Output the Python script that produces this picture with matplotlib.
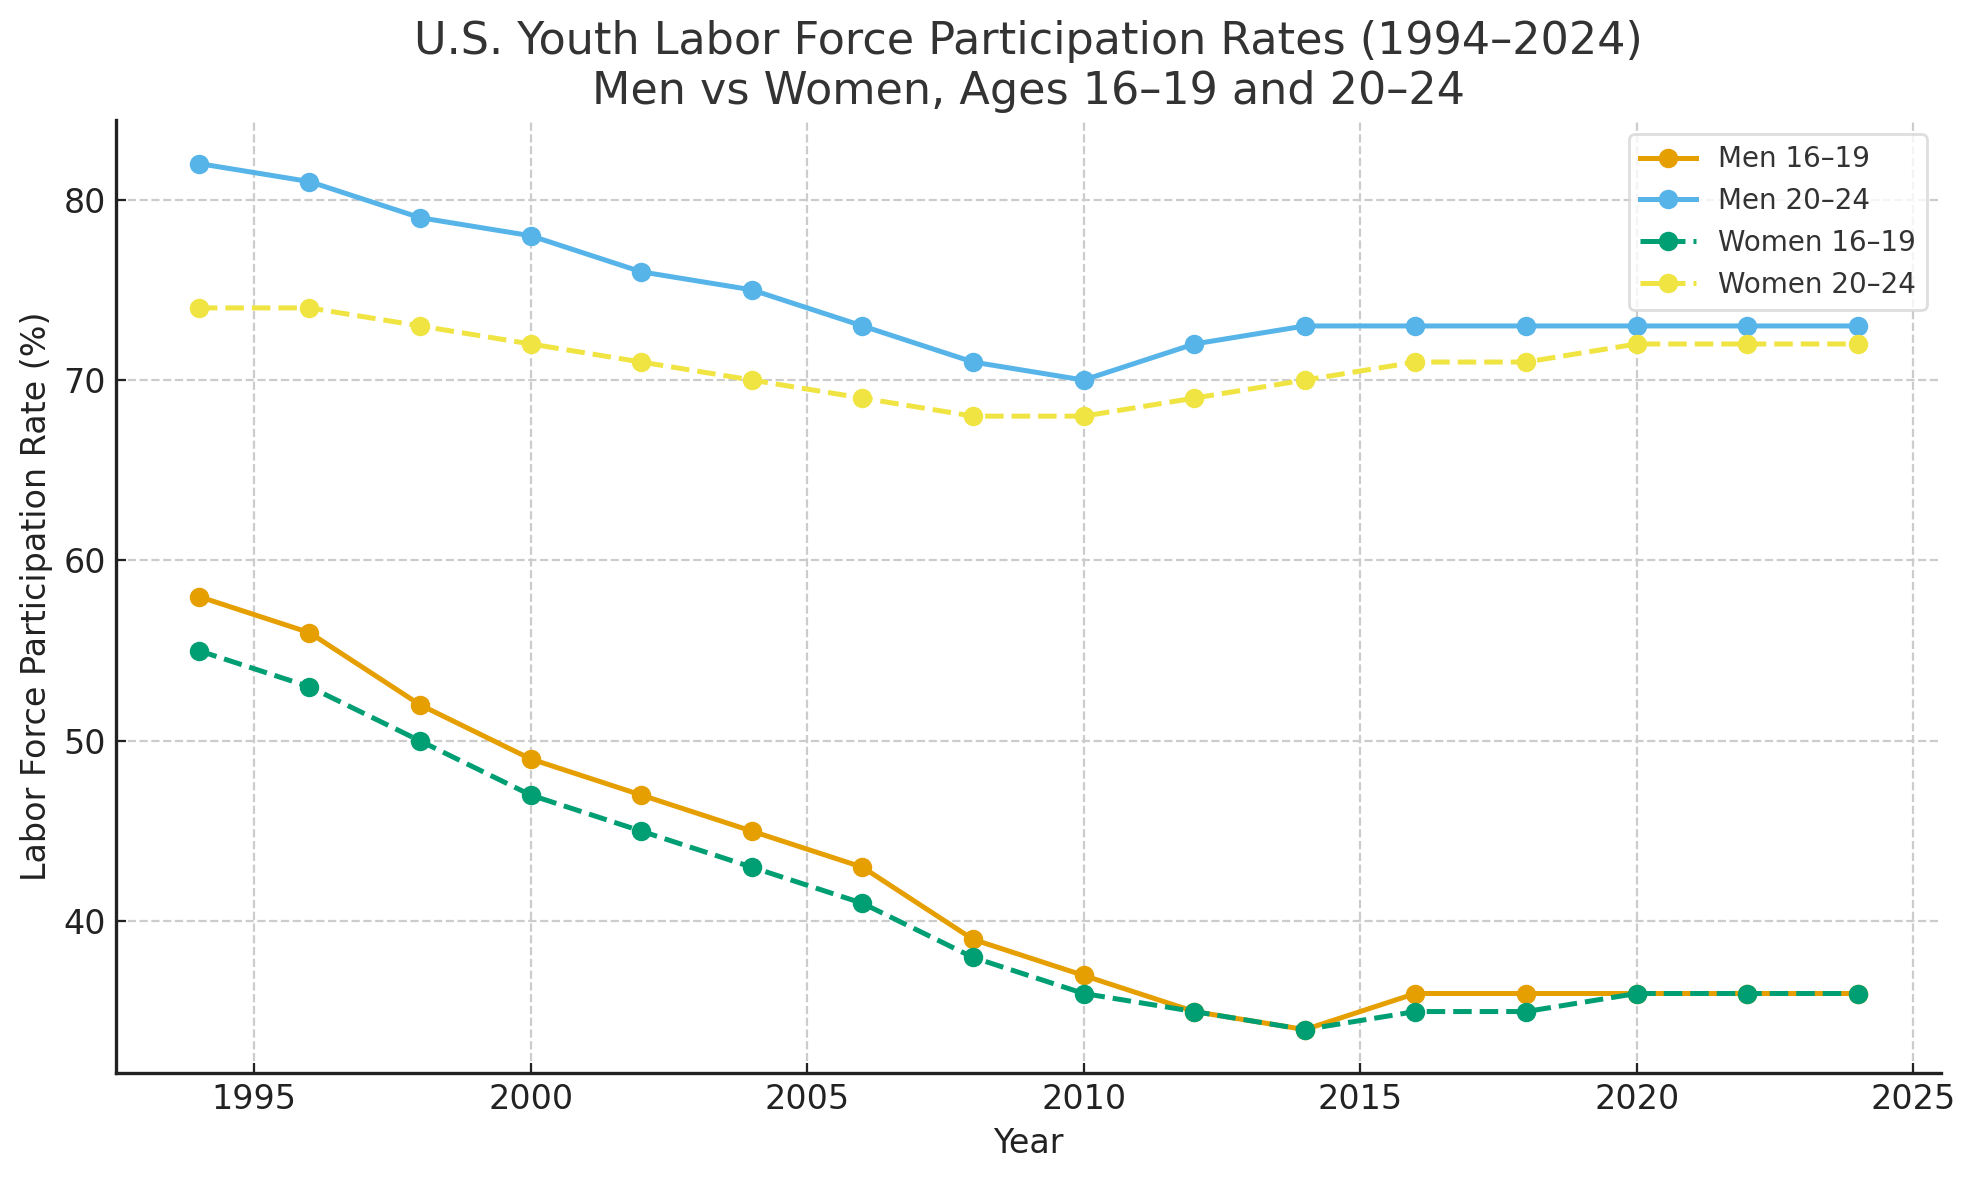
import matplotlib
matplotlib.use("Agg")
import matplotlib.pyplot as plt

years = [1994, 1996, 1998, 2000, 2002, 2004, 2006, 2008, 2010, 2012, 2014, 2016, 2018, 2020, 2022, 2024]
men_16_19 = [58, 56, 52, 49, 47, 45, 43, 39, 37, 35, 34, 36, 36, 36, 36, 36]
men_20_24 = [82, 81, 79, 78, 76, 75, 73, 71, 70, 72, 73, 73, 73, 73, 73, 73]
women_16_19 = [55, 53, 50, 47, 45, 43, 41, 38, 36, 35, 34, 35, 35, 36, 36, 36]
women_20_24 = [74, 74, 73, 72, 71, 70, 69, 68, 68, 69, 70, 71, 71, 72, 72, 72]

labels = ["Men 16–19", "Men 20–24", "Women 16–19", "Women 20–24"]
colors = ["#E69F00", "#56B4E9", "#009E73", "#F0E442"]
styles = ["-", "-", "--", "--"]

fig = plt.figure(figsize=(9.875, 5.895), dpi=200)
ax = fig.add_axes([0.0587, 0.0900, 0.9240, 0.8080])

for vals, lab, c, ls in zip([men_16_19, men_20_24, women_16_19, women_20_24], labels, colors, styles):
    ax.plot(years, vals, ls, color=c, marker="o", markersize=6, linewidth=1.8, label=lab)

ax.grid(True, linestyle="--", color="#cccccc", linewidth=0.8)
ax.set_axisbelow(True)
for s in ["top", "right"]:
    ax.spines[s].set_visible(False)
for s in ["left", "bottom"]:
    ax.spines[s].set_linewidth(1.2)
    ax.spines[s].set_color("#222222")
ax.tick_params(labelsize=12, colors="#222222", direction="in", length=3.5)
ax.set_xticks([1995, 2000, 2005, 2010, 2015, 2020, 2025])
ax.set_yticks([40, 50, 60, 70, 80])
ax.set_xlabel("Year", fontsize=12, color="#222222")
ax.set_ylabel("Labor Force Participation Rate (%)", fontsize=12, color="#222222")
ax.set_title("U.S. Youth Labor Force Participation Rates (1994–2024)\nMen vs Women, Ages 16–19 and 20–24",
             fontsize=16, color="#333333")
leg = ax.legend(loc="upper right", fontsize=10, frameon=True)
leg.get_frame().set_edgecolor("#d6d6d6")
leg.get_frame().set_linewidth(1.0)
for t in leg.get_texts():
    t.set_color("#333333")

fig.savefig("out.png", dpi=200)
